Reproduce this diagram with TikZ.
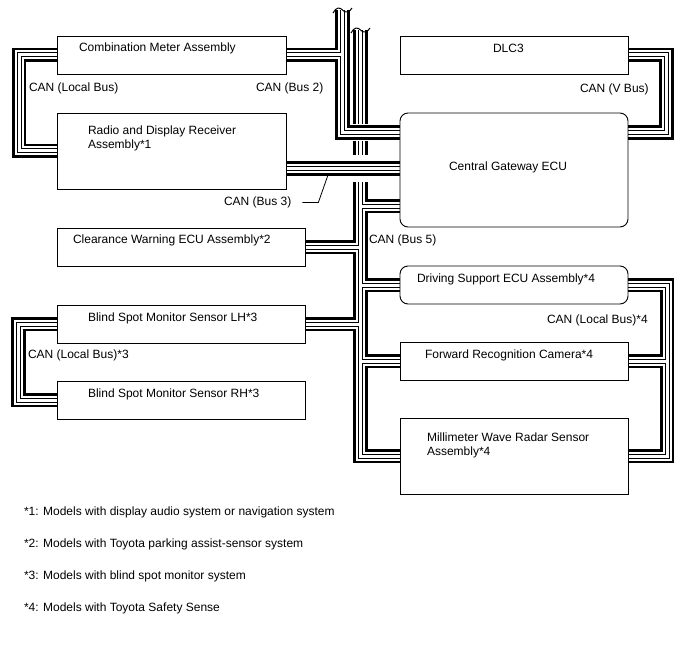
\documentclass[tikz,border=0pt]{standalone}
\usepackage{fontspec}
\setmainfont{Liberation Sans}
\usetikzlibrary{backgrounds}
\begin{document}
\begin{tikzpicture}[x=1pt, y=-1pt, line join=miter,
  every node/.style={font=\fontsize{12}{14}\selectfont, inner sep=0pt, outer sep=0pt},
  ecu/.style={draw, line width=0.9pt, minimum height=38pt},
  txt/.style={anchor=west, align=left, yshift=-1pt},
  canbus/.style={draw=black, line width=14.5pt,
    postaction={draw=white, line width=9pt},
    postaction={draw=black, line width=5pt},
    postaction={draw=white, line width=3pt}},
  halo/.style={preaction={draw=white, line width=#1}},
  brk/.style={line width=1pt}]
\useasboundingbox (0,0) rectangle (688,658);
% left column
\node[ecu, minimum width=229pt] (meter) at (171.5,55) {};
\node[txt] (meter-t) at (79,47) {Combination Meter Assembly};
\node[ecu, minimum width=229pt, minimum height=76pt] (radio) at (171.5,151) {};
\node[txt] (radio-t) at (88,137) {Radio and Display Receiver\\Assembly*1};
\node[ecu, minimum width=248pt] (cw) at (181,247) {};
\node[txt] (cw-t) at (73,239) {Clearance Warning ECU Assembly*2};
\node[ecu, minimum width=248pt] (bsl) at (181,324) {};
\node[txt] (bsl-t) at (88,317) {Blind Spot Monitor Sensor LH*3};
\node[ecu, minimum width=248pt] (bsr) at (181,400) {};
\node[txt] (bsr-t) at (88,393) {Blind Spot Monitor Sensor RH*3};
% right column
\node[ecu, minimum width=228pt] (dlc) at (514,55) {};
\node[txt] (dlc-t) at (493,47) {DLC3};
\node[ecu, minimum width=228pt, minimum height=114pt, rounded corners=8pt] (gw) at (514,170) {};
\node[txt] (gw-t) at (449,166) {Central Gateway ECU};
\node[ecu, minimum width=228pt, rounded corners=8pt] (dsu) at (514,285) {};
\node[txt] (dsu-t) at (417,278) {Driving Support ECU Assembly*4};
\node[ecu, minimum width=228pt] (cam) at (514,361) {};
\node[txt] (cam-t) at (425,354) {Forward Recognition Camera*4};
\node[ecu, minimum width=228pt, minimum height=76pt] (mwr) at (514,456) {};
\node[txt] (mwr-t) at (427,444) {Millimeter Wave Radar Sensor\\Assembly*4};
% bus corners and trunk ends
\coordinate (b2top) at (342.5,10); \coordinate (b2gw) at (400,132.5);
\coordinate (b5top) at (360.5,30); \coordinate (b5gw) at (400,206);
\coordinate (b3) at (0,168.5); \coordinate (vb) at (666.5,132.5);
\coordinate (lb1) at (19,0); \coordinate (lb3) at (18.5,0); \coordinate (lb4) at (667,0);
\begin{scope}[on background layer]
\draw[canbus] (b5top) -- (b5top |- mwr.west) -- (mwr.west)
  (b5gw -| b5top) -- (b5gw) (cw.east) -- (cw.east -| b5top)
  (dsu.west -| b5top) -- (dsu.west) (bsl.east) -- (bsl.east -| b5top)
  (cam.west -| b5top) -- (cam.west);
\draw[canbus, halo=17pt] (b2top) -- (b2top |- b2gw) -- (b2gw) (meter.east) -- (meter.east -| b2top);
\draw[canbus, halo=26pt] (b3 -| radio.east) -- (b3 -| gw.west);
\draw[canbus] (dlc.east) -- (dlc.east -| vb) -- (vb) -- (vb -| gw.east);
\draw[canbus] (meter.west) -- (meter.west -| lb1) -- (radio.west -| lb1) -- (radio.west);
\draw[canbus] (bsl.west) -- (bsl.west -| lb3) -- (bsr.west -| lb3) -- (bsr.west);
\draw[canbus] (dsu.east) -- (dsu.east -| lb4) -- (mwr.east -| lb4) -- (mwr.east)
  (cam.east) -- (cam.east -| lb4);
\end{scope}
% breaks at the top
\draw[brk] (333,13) .. controls (336,7) and (340,7) .. (342.5,10) .. controls (345,13) and (349,13) .. (352,8);
\draw[brk] (351,33) .. controls (354,27) and (358,27) .. (360.5,30) .. controls (363,33) and (367,33) .. (370,28);
% bus labels
\node[txt] (l-lb1) at (29,87) {CAN (Local Bus)};
\node[txt] (l-b2) at (256,87) {CAN (Bus 2)};
\node[txt] (l-vb) at (580,88) {CAN (V Bus)};
\node[txt] (l-b3) at (224,201) {CAN (Bus 3)};
\node[txt] (l-b5) at (369,239) {CAN (Bus 5)};
\node[txt] (l-lb4) at (547,319) {CAN (Local Bus)*4};
\node[txt] (l-lb3) at (28,354) {CAN (Local Bus)*3};
\coordinate (b3tick) at (328,175);
\draw[line width=0.8pt] (l-b3.east) ++(11,0.5) -- ++(16,0) -- (b3tick);
% notes
\node[txt] (n1) at (24,511) {*1: Models with display audio system or navigation system};
\node[txt] (n2) at (24,543) {*2: Models with Toyota parking assist-sensor system};
\node[txt] (n3) at (24,575) {*3: Models with blind spot monitor system};
\node[txt] (n4) at (24,607) {*4: Models with Toyota Safety Sense};
\end{tikzpicture}
\end{document}
